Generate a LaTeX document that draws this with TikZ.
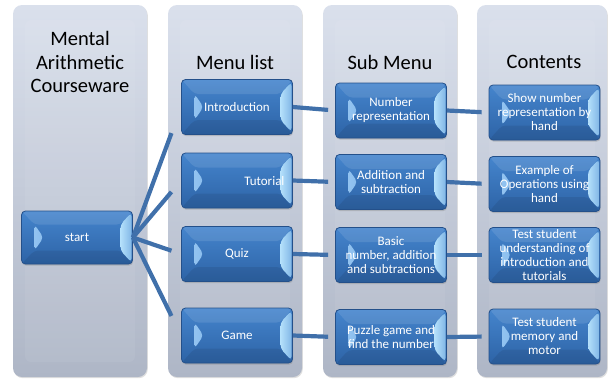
\documentclass[tikz,border=0pt]{standalone}
\usepackage{fontspec}
\setmainfont{Carlito}
\usetikzlibrary{calc,shadows}

\definecolor{panelTop}{HTML}{DAE0EC}
\definecolor{panelBot}{HTML}{AEB6C6}
\definecolor{boxTop}{HTML}{4585CD}
\definecolor{boxBot}{HTML}{2D63A6}
\definecolor{boxEdge}{HTML}{24508A}
\definecolor{bevL}{HTML}{9CCBF5}
\definecolor{bevR}{HTML}{B4E0FB}
\definecolor{linkc}{HTML}{4070AA}

\tikzset{
  panel/.style={rounded corners=9pt, top color=panelTop, bottom color=panelBot,
    drop shadow={opacity=0.25, shadow xshift=0.8pt, shadow yshift=-1.2pt}},
  bbox/.style={rectangle, rounded corners=4pt, minimum width=111pt, minimum height=55pt,
    inner sep=0pt, top color=boxTop, bottom color=boxBot, draw=boxEdge, line width=0.8pt,
    text=white, align=center, font=\fontsize{13}{14}\selectfont,
    drop shadow={opacity=0.35, shadow xshift=0.6pt, shadow yshift=-1.6pt},
    path picture={
      \path[left color=bevL, right color=boxTop]
        ($(path picture bounding box.west)+(13,-13)$) --
        ($(path picture bounding box.west)+(22,0)$) --
        ($(path picture bounding box.west)+(13,13)$) -- cycle;
      \path[left color=bevR, right color=bevR!55!boxTop]
        ($(path picture bounding box.east)+(-12,-13)$) --
        ($(path picture bounding box.east)+(-1,-25)$) --
        ($(path picture bounding box.east)+(-1,25)$) --
        ($(path picture bounding box.east)+(-12,13)$) -- cycle;
      \fill[white, opacity=0.10]
        ($(path picture bounding box.north west)+(0,0)$) --
        ($(path picture bounding box.north east)+(0,0)$) --
        ($(path picture bounding box.east)+(-12,-13)$) --
        ($(path picture bounding box.west)+(13,-13)$) -- cycle;
      \fill[black, opacity=0.08]
        ($(path picture bounding box.south west)+(0,0)$) --
        ($(path picture bounding box.south east)+(0,0)$) --
        ($(path picture bounding box.east)+(-12,13)$) --
        ($(path picture bounding box.west)+(13,13)$) -- cycle;
    }},
  title/.style={align=center, font=\fontsize{20.5}{23.5}\selectfont, text=black},
  linkline/.style={draw=linkc, line width=4.2pt},
}

\begin{document}
\begin{tikzpicture}[x=1pt,y=-1pt]
\useasboundingbox (0,0) rectangle (609,380);

% panels
\path[panel] (13,5) rectangle (147,377);
\path[panel] (168,5) rectangle (302,377);
\path[panel] (323,5) rectangle (457,377);
\path[panel] (477,5) rectangle (607,377);
\foreach \a/\b in {13/147,168/302,323/457,477/607}
  \fill[white, opacity=0.06, rounded corners=6pt] (\a+12,20) rectangle (\b-12,362);

% titles
\node[title] (t1) at (80,62) {Mental\\Arithmetic\\Courseware};
\node[title] (t2) at (235,62) {Menu list};
\node[title] (t3) at (390,62) {Sub Menu};
\node[title] (t4) at (544,62) {Contents};

% boxes
\node[bbox, minimum height=53pt] (start) at (77,237.5) {start};

\node[bbox] (intro) at (237,107) {Introduction};
\node[bbox] (tut) at (237,180.5) {};
\node[font=\fontsize{13}{14}\selectfont, text=white, anchor=east] (tuttext) at (288,181) {Tutorial};
\node[bbox] (quiz) at (237,254) {Quiz};
\node[bbox] (game) at (237,335.5) {Game};

\node[bbox] (numrep) at (391,110.5) {Number\\representation};
\node[bbox] (addsub) at (391,182) {Addition and\\subtraction};
\node[bbox] (basic) at (391,255) {Basic\\number, addition\\and subtractions};
\node[bbox] (puzzle) at (391,337) {Puzzle game and\\find the number};

\node[bbox] (show) at (544.5,112.5) {Show number\\representation by\\hand};
\node[bbox] (example) at (544.5,184) {Example of\\Operations using\\hand};
\node[bbox] (test) at (544.5,255) {Test student\\understanding of\\introduction and\\tutorials};
\node[bbox] (memory) at (544.5,336.5) {Test student\\memory and\\motor};

% connectors from start
\foreach \m in {intro,tut,quiz,game}
  \draw[linkline] (start.east) -- ($(start.east)!0.8!(\m.west)$);

% menu to sub menu
\draw[linkline, shorten >=7pt] (intro.east) -- (numrep.west);
\draw[linkline, shorten >=7pt] (tut.east) -- (addsub.west);
\draw[linkline, shorten >=7pt] (quiz.east) -- (basic.west);
\draw[linkline, shorten >=7pt] (game.east) -- (puzzle.west);

% sub menu to contents
\draw[linkline, shorten >=7pt] (numrep.east) -- (show.west);
\draw[linkline, shorten >=7pt] (addsub.east) -- (example.west);
\draw[linkline, shorten >=7pt] (basic.east) -- (test.west);
\draw[linkline, shorten >=7pt] (puzzle.east) -- (memory.west);
\end{tikzpicture}
\end{document}
